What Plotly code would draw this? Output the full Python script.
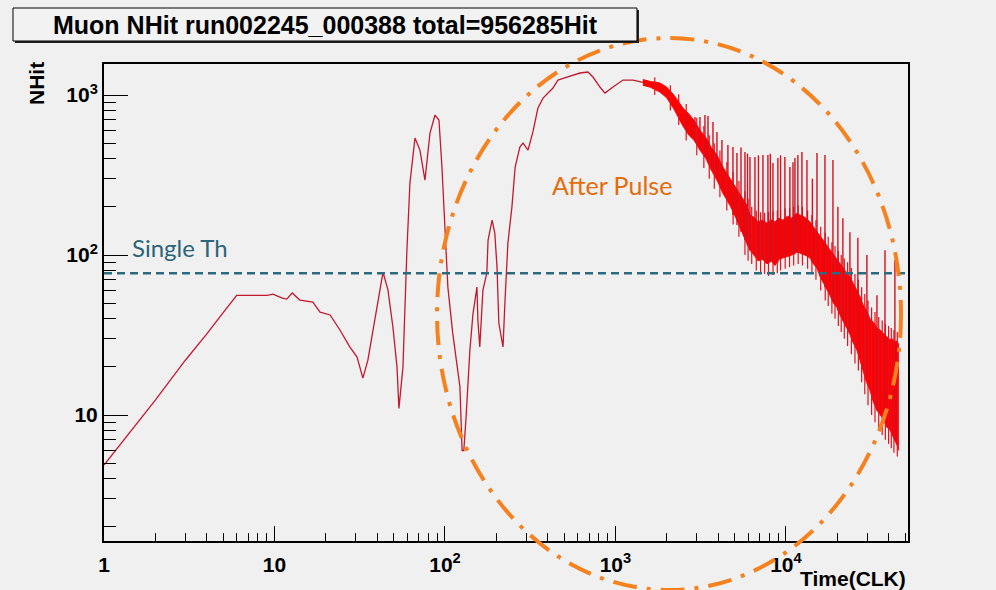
import plotly.graph_objects as go

# ---------------- data ----------------
curve_x = [1, 2, 3, 4, 5, 6, 9.04, 9.8, 11.1, 11.8, 12.7, 14.1, 16.8, 18.5, 21.2, 24.2,
           27.7, 30.5, 33, 35.3, 43.3, 46.3, 49.5, 52.3, 53.7, 56.7, 59.8, 62.3, 66.7,
           71.3, 76.3, 81.7, 87.4, 92.2, 96, 100, 104, 111, 117.5, 122.4, 126, 129, 133,
           140, 146, 154, 156, 160, 167, 176, 179, 189, 196, 202, 207, 219, 225, 234,
           247, 258, 275, 287, 307, 328, 351, 376, 430, 460, 519, 620, 690, 738, 811,
           868, 967, 1107, 1268, 1450]
curve_y = [4.87, 12.4, 22, 32, 43.6, 56, 56, 57, 53.8, 53, 57.9, 52.3, 50.8, 44, 42.2, 34,
           26.6, 23, 17, 22, 78, 60.5, 35.5, 20, 11, 20, 107, 282, 538,
           453, 294, 579, 750, 698, 355, 137, 63, 32.6, 20, 15, 6.0, 6.0, 9.7,
           25.5, 43, 63, 39, 26.6, 60.5, 77, 124, 165, 137, 84, 37.6, 26.6, 52, 119,
           200, 355, 473, 501, 453, 588, 829, 957, 1106, 1241, 1296, 1373, 1393, 1296, 1122,
           1029, 1122, 1241, 1241, 1200]

# dense noisy band (upper / lower envelope)
band_x = [1450, 1600, 1824, 2000, 2200, 2489, 2700, 2900, 3131, 3400, 3650, 3938, 4300,
          4697, 5100, 5596, 5900, 6152, 6500, 6852, 7300, 7741, 8200, 8617, 9100, 9597,
          10200, 10840, 11500, 12080, 12900, 13830, 14500, 15210, 15800, 16490, 17300,
          18130, 19000, 19920, 20800, 21600, 22600, 23730, 24900, 26080, 27200, 28290,
          29700, 31110, 32600, 34200, 35800, 37580, 39000, 40780, 42000, 43570, 44800, 46000]
band_hi = [1250, 1215, 1189, 1120, 1000, 829, 760, 690, 604, 540, 470, 422, 350,
           303, 262, 227, 205, 178, 172, 161, 165, 158, 166, 161, 170, 165,
           175, 170, 182, 178, 172, 161, 150, 139, 132, 124, 115,
           107, 100, 93, 88, 83, 78, 73, 66, 60, 55, 49,
           45, 40, 38, 35, 34, 32, 31, 29.4, 30, 28.6, 29, 27.4]
band_lo = [1150, 1120, 1044, 960, 820, 640, 560, 520, 453, 400, 340, 294, 240,
           205, 170, 133, 118, 107, 100, 92, 94, 88, 92, 86, 94, 96,
           98, 100, 104, 103, 100, 96, 88, 83, 74, 68, 62,
           56, 50, 47, 42, 39, 35, 32, 28, 25.5, 22, 19,
           16, 14.3, 12, 10.7, 10, 9.3, 8.4, 8.1, 7.5, 7.0, 6.5, 6.0]

# short noise hairs sticking out of the band
hair_x = [1700, 2100, 2350, 2600, 3000, 3300, 3550, 3800, 4100, 4500, 4900, 5300, 5750,
          6000, 6300, 6700, 7100, 7500, 7900, 8400, 8900, 9300, 9900, 10500, 11100, 11800,
          12500, 13400, 14200, 15000, 16000, 17000, 17700, 18600, 19400, 20300, 21100,
          22000, 23000, 24200, 25400, 26600, 27800, 29000, 30300, 31800, 33300, 35000,
          36700, 38300, 40000, 41500, 43000, 45000]
hair_hi = [1290, 1150, 1010, 880, 720, 640, 560, 500, 450, 380, 330, 290, 250,
           225, 200, 190, 185, 184, 186, 188, 190, 192, 195, 196, 200, 205,
           200, 190, 178, 165, 150, 138, 130, 120, 114, 106, 100,
           95, 90, 83, 76, 70, 63, 57, 52, 47, 44, 41,
           39, 37, 36, 35, 34, 33]
hair_lo = [1000, 800, 650, 520, 420, 350, 300, 260, 230, 190, 155, 130, 100,
           92, 88, 80, 78, 76, 74, 75, 77, 80, 82, 84, 86, 88,
           86, 82, 76, 70, 60, 52, 48, 43, 40, 36, 33,
           30, 27, 24, 21, 19, 16, 13.5, 11.5, 10, 9, 8,
           7.5, 7, 6.6, 6.2, 5.8, 5.5]

# tall spikes
spike_x = [2626, 2812, 2925, 3131, 3350, 3490, 3733, 3938, 4213, 4567, 4889, 5160, 5450,
           5750, 5950, 6152, 6580, 6900, 7330, 7840, 8100, 8390, 8970, 9300, 9860, 10550,
           11000, 11290, 11750, 12410, 13280, 14300, 15210, 16940, 18870, 20170, 21580,
           23730, 26420, 29850, 34190, 38100, 43570]
spike_top = [772, 718, 729, 729, 750, 739, 678, 587, 523, 487, 473, 434, 470,
             440, 430, 410, 410, 420, 422, 422, 430, 376, 404, 420, 410, 355,
             380, 404, 422, 440, 392, 300, 434, 422, 392, 200, 170,
             139, 128, 100, 56, 107, 93]
spike_base = [580, 540, 515, 453, 410, 380, 340, 294, 255, 220, 178, 154, 140,
              124, 115, 107, 100, 95, 93, 90, 90, 90, 90, 95, 96, 100,
              101, 101, 103, 101, 99, 90, 83, 63, 51, 45, 39,
              32, 25, 18, 10.7, 9, 7]

threshold = 77

x_ticks = [1, 10, 100, 1000, 10000]
x_ticktext = ["1", "10", "10<sup>2</sup>", "10<sup>3</sup>", "10<sup>4</sup>"]
y_ticks = [10, 100, 1000]
y_ticktext = ["10", "10<sup>2</sup>", "10<sup>3</sup>"]

title_text = "Muon NHit run002245_000388 total=956285Hit"

# ---------------- figure ----------------
BG = "#f0f0f0"
RED_LINE = "#c4182c"
RED = "#ff0000"

fig = go.Figure()

fig.add_trace(go.Scatter(x=curve_x, y=curve_y, mode="lines",
                         line=dict(color=RED_LINE, width=1.3), hoverinfo="skip"))
fig.add_trace(go.Scatter(x=band_x, y=band_lo, mode="lines",
                         line=dict(color=RED, width=1), hoverinfo="skip"))
fig.add_trace(go.Scatter(x=band_x, y=band_hi, mode="lines", fill="tonexty",
                         fillcolor=RED, line=dict(color=RED, width=1), hoverinfo="skip"))

hx, hy = [], []
for xv, lo, hi in zip(hair_x, hair_lo, hair_hi):
    hx += [xv, xv, None]
    hy += [lo, hi, None]
fig.add_trace(go.Scatter(x=hx, y=hy, mode="lines",
                         line=dict(color="#e8101c", width=1.2), hoverinfo="skip"))

sx, sy = [], []
for xv, b, t in zip(spike_x, spike_base, spike_top):
    sx += [xv, xv, None]
    sy += [b, t, None]
fig.add_trace(go.Scatter(x=sx, y=sy, mode="lines",
                         line=dict(color="#d4101e", width=1.4), hoverinfo="skip"))

minor_x = [m * 10 ** d for d in range(5) for m in range(2, 10)]
minor_y = [m * 10 ** d for d in range(0, 4) for m in range(2, 10)]

tickfont = dict(family="Liberation Sans, Arial", size=21, color="black", weight="bold")

fig.update_xaxes(type="log", range=[0, 4.716], showline=True, linecolor="black",
                 linewidth=2, mirror=True, showgrid=False, zeroline=False,
                 tickmode="array", tickvals=x_ticks, ticktext=x_ticktext,
                 ticks="inside", ticklen=15, tickwidth=1, tickcolor="black",
                 tickfont=tickfont, ticklabelstandoff=4,
                 minor=dict(tickmode="array", tickvals=minor_x, ticks="inside",
                            ticklen=8, tickwidth=1, tickcolor="black", showgrid=False))
fig.update_yaxes(type="log", range=[0.2125, 3.194], showline=True, linecolor="black",
                 linewidth=2, mirror=True, showgrid=False, zeroline=False,
                 tickmode="array", tickvals=y_ticks, ticktext=y_ticktext,
                 ticks="inside", ticklen=24, tickwidth=1, tickcolor="black",
                 tickfont=tickfont,
                 minor=dict(tickmode="array", tickvals=minor_y, ticks="inside",
                            ticklen=12, tickwidth=1, tickcolor="black", showgrid=False))

# threshold line
fig.add_shape(type="line", xref="paper", x0=0, x1=1, yref="y", y0=threshold, y1=threshold,
              line=dict(color="#2c6a80", width=2.5, dash="8px,5px"), layer="above")

# after pulse ellipse
fig.add_shape(type="circle", xref="paper", yref="paper",
              x0=0.4142, x1=0.9913, y0=-0.1027, y1=1.0545,
              line=dict(color="#f5821f", width=4, dash="24px,10px,4px,10px"), layer="above")

# title box with shadow
fig.add_shape(type="rect", xref="paper", yref="paper",
              x0=-0.1107, x1=0.6654, y0=1.0440, y1=1.1132,
              fillcolor="#222222", line=dict(width=0), layer="above")
fig.add_shape(type="rect", xref="paper", yref="paper",
              x0=-0.1132, x1=0.6629, y0=1.0482, y1=1.1174,
              fillcolor="#f2f2f2", line=dict(color="black", width=1), layer="above")

fig.add_annotation(text=title_text, xref="paper", yref="paper", x=0.2749, y=1.0828,
                   showarrow=False, xanchor="center", yanchor="middle",
                   font=dict(family="Liberation Sans, Arial", size=25, color="black",
                             weight="bold"))

fig.add_annotation(text="After Pulse", xref="paper", yref="paper",
                   x=(550 - 104) / 804, y=(541 - 185) / 477, xanchor="left",
                   yanchor="middle", showarrow=False,
                   font=dict(family="Lato, Carlito, sans-serif", size=25, color="#e46c0a"))
fig.add_annotation(text="Single Th", xref="paper", yref="paper",
                   x=(130 - 104) / 804, y=(541 - 247) / 477, xanchor="left",
                   yanchor="middle", showarrow=False,
                   font=dict(family="Lato, Carlito, sans-serif", size=24, color="#2c6478"))

fig.add_annotation(text="Time(CLK)", xref="paper", yref="paper",
                   x=1.0, y=(541 - 578) / 477, xanchor="right", yanchor="middle",
                   showarrow=False,
                   font=dict(family="Liberation Sans, Arial", size=21, color="black",
                             weight="bold"))
fig.add_annotation(text="NHit", xref="paper", yref="paper",
                   x=(37 - 104) / 804, y=(541 - 84) / 477, xanchor="center",
                   yanchor="middle", textangle=-90, showarrow=False,
                   font=dict(family="Liberation Sans, Arial", size=21, color="black",
                             weight="bold"))

fig.update_layout(width=996, height=590, autosize=False,
                  margin=dict(l=104, r=88, t=64, b=49),
                  paper_bgcolor=BG, plot_bgcolor=BG, showlegend=False)

fig.write_html("out.html")
